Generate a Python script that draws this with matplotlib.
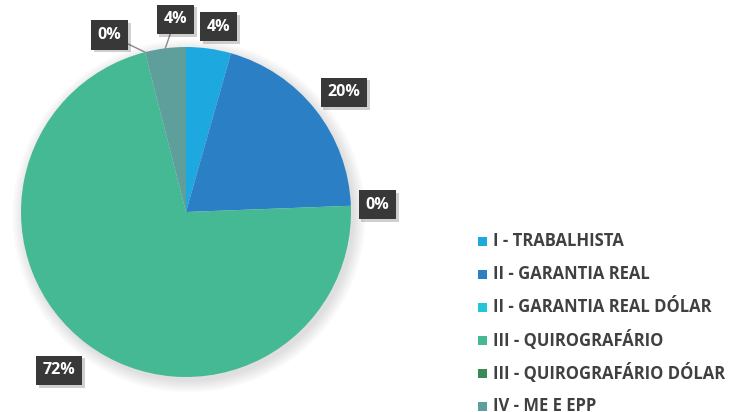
import numpy as np
import matplotlib
matplotlib.use("Agg")
from matplotlib import pyplot as plt
from matplotlib.patches import Circle, Rectangle
import matplotlib.patheffects as pe

plt.rcParams['font.family'] = ['Open Sans', 'DejaVu Sans']

categories = ['I - TRABALHISTA', 'II - GARANTIA REAL', 'II - GARANTIA REAL DÓLAR',
              'III - QUIROGRAFÁRIO', 'III - QUIROGRAFÁRIO DÓLAR', 'IV - ME E EPP']
values = [4.4, 20.0, 0.0, 71.6, 0.0, 4.0]
labels = ['4%', '20%', '0%', '72%', '0%', '4%']
colors = ['#1EA8E0', '#2B80C5', '#22C7D6', '#45B994', '#3A8A55', '#5E9F9C']

W, H = 733, 412
fig = plt.figure(figsize=(W / 100, H / 100), dpi=100)
ax = fig.add_axes([0, 0, 1, 1])

cx, cy, R = 186, 200, 165

# soft shadow behind the pie
for k in range(16):
    ax.add_patch(Circle((cx + 3, cy - 4), R + k * 0.8, color='black', alpha=0.008, lw=0, zorder=0))

wedges, _ = ax.pie(values, colors=colors, startangle=90, counterclock=False,
                   center=(cx, cy), radius=R, wedgeprops=dict(linewidth=0))
for w in wedges:
    w.set_zorder(2)

ax.set_xlim(0, W)
ax.set_ylim(0, H)
ax.set_aspect('equal')
ax.axis('off')

# label placement: distance factor and angular nudge (degrees, clockwise)
dist = [1.14, 1.20, 1.16, 1.23, 1.17, 1.17]
nudge = [2, 1, 0, 2, -9, 4]
leader = [False, False, False, False, True, True]

total = sum(values)
cum = 0.0
for i, v in enumerate(values):
    mid = 360 * (cum + v / 2) / total
    edge_ang = np.deg2rad(90 - mid)
    ang = np.deg2rad(90 - (mid + nudge[i]))
    lx = cx + dist[i] * R * np.cos(ang)
    ly = cy + dist[i] * R * np.sin(ang)
    if leader[i]:
        ex = cx + R * np.cos(edge_ang)
        ey = cy + R * np.sin(edge_ang)
        ax.plot([ex, lx], [ey, ly], color='#8a8a8a', lw=1, zorder=3)
    t = ax.text(lx, ly, labels[i], ha='center', va='center', color='white',
                fontsize=11.5, fontweight='bold', zorder=5,
                bbox=dict(boxstyle='square,pad=0.42', fc='#383838', ec='none'))
    t.get_bbox_patch().set_path_effects([pe.withSimplePatchShadow(offset=(2, -2), alpha=0.2)])
    cum += v

# legend
lx0, ly0, step = 478, 412 - 241, 33
for i, (c, name) in enumerate(zip(colors, categories)):
    y = ly0 - i * step
    ax.add_patch(Rectangle((lx0, y - 4.5), 9, 9, color=c, lw=0))
    ax.text(lx0 + 15, y, name, ha='left', va='center', fontsize=12,
            fontweight='bold', color='#404040')

fig.savefig('out.png', dpi=100)
